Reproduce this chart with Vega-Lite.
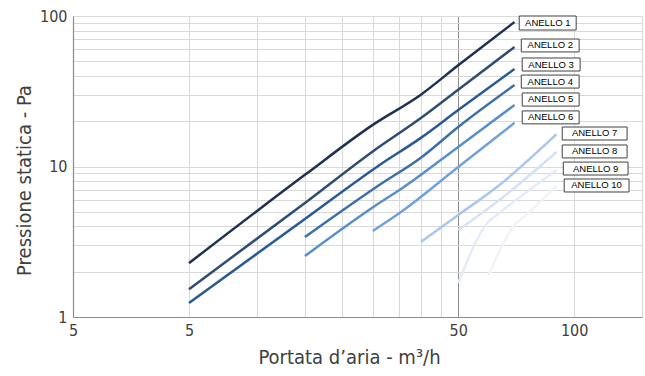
{
  "$schema": "https://vega.github.io/schema/vega-lite/v6.json",
  "autosize": {"type": "none"},
  "width": 569,
  "height": 301,
  "padding": {"left": 73, "top": 16, "right": 3, "bottom": 59},
  "background": "white",
  "config": {"view": {"stroke": null}},
  "datasets": {
    "lines": [
      {"serie": "ANELLO 1", "portata": 10, "pressione": 2.28},
      {"serie": "ANELLO 1", "portata": 20, "pressione": 8.8},
      {"serie": "ANELLO 1", "portata": 30, "pressione": 18.9},
      {"serie": "ANELLO 1", "portata": 40, "pressione": 30.0},
      {"serie": "ANELLO 1", "portata": 50, "pressione": 47.0},
      {"serie": "ANELLO 1", "portata": 70, "pressione": 91.2},
      {"serie": "ANELLO 2", "portata": 10, "pressione": 1.53},
      {"serie": "ANELLO 2", "portata": 20, "pressione": 5.72},
      {"serie": "ANELLO 2", "portata": 30, "pressione": 12.6},
      {"serie": "ANELLO 2", "portata": 40, "pressione": 21.0},
      {"serie": "ANELLO 2", "portata": 50, "pressione": 32.4},
      {"serie": "ANELLO 2", "portata": 70, "pressione": 62.2},
      {"serie": "ANELLO 3", "portata": 10, "pressione": 1.24},
      {"serie": "ANELLO 3", "portata": 20, "pressione": 4.48},
      {"serie": "ANELLO 3", "portata": 31.2, "pressione": 10.2},
      {"serie": "ANELLO 3", "portata": 40, "pressione": 15.5},
      {"serie": "ANELLO 3", "portata": 50, "pressione": 23.7},
      {"serie": "ANELLO 3", "portata": 70, "pressione": 44.5},
      {"serie": "ANELLO 4", "portata": 20, "pressione": 3.4},
      {"serie": "ANELLO 4", "portata": 31.2, "pressione": 7.54},
      {"serie": "ANELLO 4", "portata": 40, "pressione": 11.45},
      {"serie": "ANELLO 4", "portata": 50, "pressione": 18.3},
      {"serie": "ANELLO 4", "portata": 70, "pressione": 34.8},
      {"serie": "ANELLO 5", "portata": 20, "pressione": 2.54},
      {"serie": "ANELLO 5", "portata": 31.2, "pressione": 5.72},
      {"serie": "ANELLO 5", "portata": 35.2, "pressione": 6.98},
      {"serie": "ANELLO 5", "portata": 50, "pressione": 13.5},
      {"serie": "ANELLO 5", "portata": 70, "pressione": 25.6},
      {"serie": "ANELLO 6", "portata": 30, "pressione": 3.73},
      {"serie": "ANELLO 6", "portata": 35.2, "pressione": 4.91},
      {"serie": "ANELLO 6", "portata": 50, "pressione": 9.93},
      {"serie": "ANELLO 6", "portata": 70, "pressione": 19.5},
      {"serie": "ANELLO 7", "portata": 40, "pressione": 3.15},
      {"serie": "ANELLO 7", "portata": 50, "pressione": 4.76},
      {"serie": "ANELLO 7", "portata": 64, "pressione": 7.54},
      {"serie": "ANELLO 7", "portata": 90, "pressione": 16.4},
      {"serie": "ANELLO 8", "portata": 50, "pressione": 3.78},
      {"serie": "ANELLO 8", "portata": 64, "pressione": 6.0},
      {"serie": "ANELLO 8", "portata": 90, "pressione": 12.5},
      {"serie": "ANELLO 9", "portata": 50, "pressione": 1.68},
      {"serie": "ANELLO 9", "portata": 59.5, "pressione": 4.21},
      {"serie": "ANELLO 9", "portata": 64, "pressione": 4.91},
      {"serie": "ANELLO 9", "portata": 90, "pressione": 9.48},
      {"serie": "ANELLO 10", "portata": 60, "pressione": 1.9},
      {"serie": "ANELLO 10", "portata": 70, "pressione": 4.09},
      {"serie": "ANELLO 10", "portata": 75, "pressione": 4.76},
      {"serie": "ANELLO 10", "portata": 90, "pressione": 7.42}
    ],
    "labels": [
      {"serie": "ANELLO 1", "x1": 72.0, "x2": 101.2, "y1": 100, "y2": 80.7, "xc": 85.4, "yc": 89.8},
      {"serie": "ANELLO 2", "x1": 72.9, "x2": 103.0, "y1": 70.3, "y2": 57.7, "xc": 86.7, "yc": 63.7},
      {"serie": "ANELLO 3", "x1": 73.3, "x2": 103.6, "y1": 52.6, "y2": 43.1, "xc": 87.1, "yc": 47.6},
      {"serie": "ANELLO 4", "x1": 72.9, "x2": 103.0, "y1": 40.5, "y2": 33.2, "xc": 86.7, "yc": 36.7},
      {"serie": "ANELLO 5", "x1": 73.3, "x2": 103.0, "y1": 30.8, "y2": 25.2, "xc": 86.9, "yc": 27.9},
      {"serie": "ANELLO 6", "x1": 73.3, "x2": 103.0, "y1": 23.4, "y2": 19.2, "xc": 86.9, "yc": 21.2},
      {"serie": "ANELLO 7", "x1": 93.1, "x2": 137.2, "y1": 18.3, "y2": 15.0, "xc": 113.0, "yc": 16.6},
      {"serie": "ANELLO 8", "x1": 93.1, "x2": 137.2, "y1": 13.9, "y2": 11.4, "xc": 113.0, "yc": 12.6},
      {"serie": "ANELLO 9", "x1": 93.7, "x2": 138.0, "y1": 10.7, "y2": 8.78, "xc": 113.7, "yc": 9.69},
      {"serie": "ANELLO 10", "x1": 94.2, "x2": 138.8, "y1": 8.26, "y2": 6.77, "xc": 114.3, "yc": 7.48}
    ]
  },
  "layer": [
    {
      "data": {"name": "lines"},
      "mark": {"type": "line", "interpolate": "monotone", "strokeWidth": 2.5, "clip": true},
      "encoding": {
        "x": {
          "field": "portata", "type": "quantitative",
          "scale": {"type": "log", "domain": [5, 150], "nice": false},
          "axis": {
            "values": [5, 10, 15, 20, 25, 30, 35, 40, 45, 50, 100, 150],
            "labelExpr": "datum.value == 5 || datum.value == 10 ? '5' : datum.value == 50 ? '50' : datum.value == 100 ? '100' : ''",
            "grid": true,
            "gridColor": {"condition": {"test": "datum.value == 50", "value": "#8c8c8c"}, "value": "#d9d9d9"},
            "gridWidth": 1,
            "domainColor": "#8c8c8c",
            "domainWidth": 1.2,
            "ticks": false,
            "labelPadding": 5,
            "labelFlush": false,
            "labelOverlap": false,
            "labelBound": false,
            "labelFont": "Liberation Sans Narrow, DejaVu Sans Condensed, Roboto",
            "labelFontSize": 16,
            "labelColor": "#404040",
            "title": "Portata d’aria -  m³/h",
            "titleFont": "Liberation Sans Narrow, DejaVu Sans Condensed, Roboto",
            "titleFontSize": 20,
            "titleFontWeight": "normal",
            "titleColor": "#404040",
            "titleX": 276,
            "titleY": 40,
            "titleAlign": "center",
            "titleBaseline": "middle"
          }
        },
        "y": {
          "field": "pressione", "type": "quantitative",
          "scale": {"type": "log", "domain": [1, 100], "nice": false},
          "axis": {
            "values": [1, 2, 3, 4, 5, 6, 7, 8, 9, 10, 20, 30, 40, 50, 60, 70, 80, 90, 100],
            "labelExpr": "datum.value == 1 ? '1' : datum.value == 10 ? '10' : datum.value == 100 ? '100' : ''",
            "grid": true,
            "gridColor": "#d9d9d9",
            "gridWidth": 1,
            "domainColor": "#8c8c8c",
            "domainWidth": 1.2,
            "ticks": false,
            "labelPadding": 6,
            "labelFlush": false,
            "labelOverlap": false,
            "labelBound": false,
            "labelFont": "Liberation Sans Narrow, DejaVu Sans Condensed, Roboto",
            "labelFontSize": 16,
            "labelColor": "#404040",
            "title": "Pressione statica - Pa",
            "titleFont": "Liberation Sans Narrow, DejaVu Sans Condensed, Roboto",
            "titleFontSize": 20,
            "titleFontWeight": "normal",
            "titleColor": "#404040",
            "titleX": -49,
            "titleY": 164,
            "titleAlign": "center",
            "titleBaseline": "middle",
            "titleAngle": -90
          }
        },
        "color": {
          "field": "serie", "type": "nominal", "legend": null,
          "scale": {
            "domain": ["ANELLO 1", "ANELLO 2", "ANELLO 3", "ANELLO 4", "ANELLO 5", "ANELLO 6", "ANELLO 7", "ANELLO 8", "ANELLO 9", "ANELLO 10"],
            "range": ["#1e3150", "#2f4d70", "#2a5a92", "#3d6fa8", "#5a8ecb", "#6fa2da", "#a9c7ea", "#d3e2f4", "#e3ecf8", "#eff4fa"]
          }
        }
      }
    },
    {
      "data": {"name": "labels"},
      "mark": {"type": "rect", "fill": "white", "stroke": "#404040", "strokeWidth": 1},
      "encoding": {
        "x": {"field": "x1", "type": "quantitative"},
        "x2": {"field": "x2"},
        "y": {"field": "y1", "type": "quantitative"},
        "y2": {"field": "y2"}
      }
    },
    {
      "data": {"name": "labels"},
      "mark": {"type": "text", "font": "Liberation Sans, Arial", "fontSize": 9.5, "color": "#000000", "align": "center", "baseline": "middle"},
      "encoding": {
        "x": {"field": "xc", "type": "quantitative"},
        "y": {"field": "yc", "type": "quantitative"},
        "text": {"field": "serie"}
      }
    }
  ]
}
